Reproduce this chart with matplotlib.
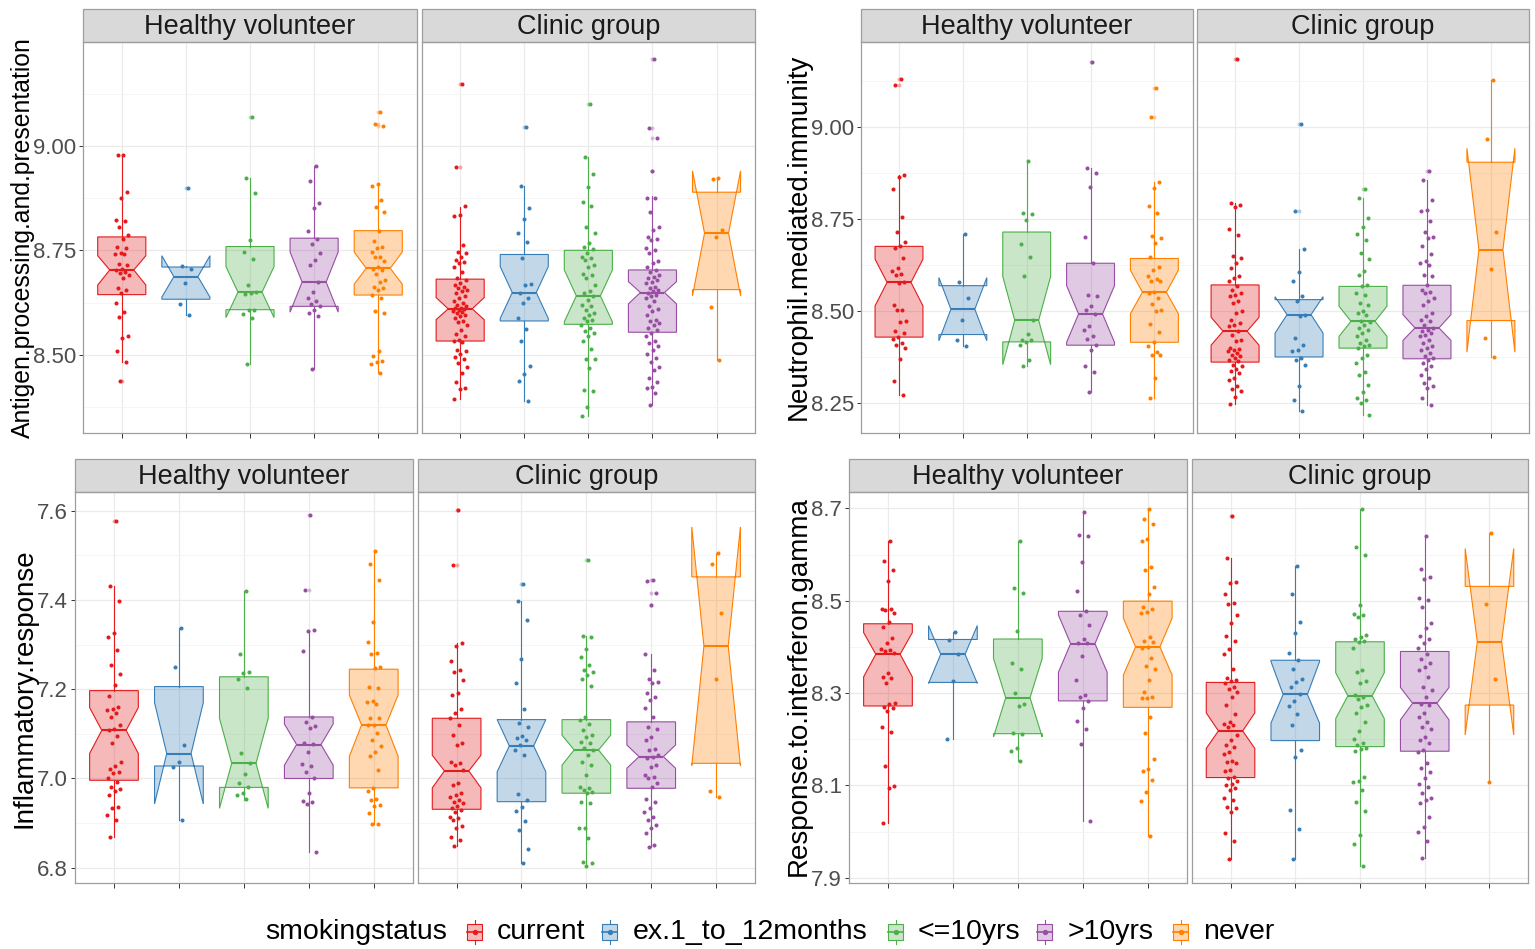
import matplotlib
matplotlib.use('Agg')
import matplotlib.pyplot as plt
from matplotlib.colors import to_rgba
from matplotlib.patches import Rectangle
from matplotlib.lines import Line2D

plt.rcParams['font.family'] = ['Liberation Sans', 'DejaVu Sans']

W, H = 1535, 949

groups = ['current', 'ex.1_to_12months', '<=10yrs', '>10yrs', 'never']
colors = ['#E41A1C', '#377EB8', '#4DAF4A', '#984EA3', '#FF7F00']
facets = ['Healthy volunteer', 'Clinic group']

# box stats per group: (whislo, q1, med, q3, whishi, notch_lo, notch_hi)
# ---------------- Antigen.processing.and.presentation
antigen_hv_box = [(8.482, 8.644, 8.703, 8.782, 8.978, 8.667, 8.737),
                  (8.595, 8.633, 8.687, 8.710, 8.713, 8.638, 8.737),
                  (8.477, 8.608, 8.650, 8.759, 8.923, 8.589, 8.711),
                  (8.467, 8.616, 8.674, 8.779, 8.952, 8.602, 8.746),
                  (8.456, 8.643, 8.707, 8.797, 8.907, 8.669, 8.746)]
antigen_hv_out = [[8.438], [8.900], [9.069], [], [9.082, 9.052, 9.048]]
antigen_hv_pts = [
    [8.978, 8.977, 8.890, 8.875, 8.823, 8.821, 8.805, 8.786, 8.778, 8.757, 8.755, 8.743, 8.742, 8.740,
     8.717, 8.714, 8.705, 8.702, 8.699, 8.695, 8.691, 8.683, 8.659, 8.656, 8.649, 8.625, 8.602, 8.591,
     8.545, 8.541, 8.510, 8.482, 8.438],
    [8.900, 8.713, 8.705, 8.671, 8.621, 8.595],
    [9.069, 8.923, 8.887, 8.774, 8.746, 8.730, 8.667, 8.650, 8.648, 8.646, 8.608, 8.608, 8.597, 8.588, 8.477],
    [8.952, 8.915, 8.862, 8.852, 8.797, 8.778, 8.766, 8.743, 8.726, 8.714, 8.675, 8.651, 8.637, 8.628,
     8.622, 8.617, 8.608, 8.599, 8.593, 8.467],
    [9.082, 9.052, 9.048, 8.909, 8.904, 8.871, 8.853, 8.841, 8.797, 8.773, 8.758, 8.755, 8.746, 8.735,
     8.734, 8.724, 8.710, 8.705, 8.702, 8.694, 8.678, 8.675, 8.663, 8.660, 8.655, 8.644, 8.636, 8.606,
     8.600, 8.510, 8.498, 8.486, 8.482, 8.478, 8.456]]
antigen_cg_box = [(8.394, 8.533, 8.610, 8.681, 8.853, 8.584, 8.637),
                  (8.390, 8.581, 8.649, 8.740, 8.903, 8.587, 8.711),
                  (8.354, 8.573, 8.641, 8.750, 8.973, 8.579, 8.703),
                  (8.380, 8.554, 8.649, 8.703, 8.879, 8.622, 8.675),
                  (8.487, 8.656, 8.791, 8.889, 8.920, 8.641, 8.940)]
antigen_cg_out = [[9.148, 8.949], [9.045], [9.100], [9.207, 9.042, 9.018, 8.939], []]
antigen_cg_pts = [
    [9.148, 8.949, 8.855, 8.835, 8.831, 8.762, 8.746, 8.743, 8.735, 8.727, 8.723, 8.719, 8.711, 8.699,
     8.683, 8.679, 8.671, 8.667, 8.662, 8.659, 8.656, 8.652, 8.648, 8.640, 8.636, 8.628, 8.624, 8.620,
     8.616, 8.613, 8.611, 8.609, 8.608, 8.605, 8.603, 8.600, 8.596, 8.592, 8.588, 8.582, 8.578, 8.572,
     8.560, 8.549, 8.544, 8.536, 8.533, 8.531, 8.512, 8.508, 8.502, 8.494, 8.490, 8.480, 8.472, 8.456,
     8.436, 8.420, 8.418, 8.394],
    [9.045, 8.903, 8.852, 8.826, 8.791, 8.769, 8.731, 8.669, 8.667, 8.648, 8.636, 8.624, 8.589, 8.561,
     8.534, 8.474, 8.455, 8.438, 8.390],
    [9.100, 8.973, 8.932, 8.901, 8.866, 8.857, 8.805, 8.791, 8.767, 8.759, 8.753, 8.743, 8.735, 8.731,
     8.726, 8.715, 8.711, 8.694, 8.691, 8.683, 8.667, 8.653, 8.648, 8.641, 8.632, 8.620, 8.616, 8.608,
     8.600, 8.596, 8.588, 8.584, 8.580, 8.572, 8.564, 8.556, 8.552, 8.544, 8.532, 8.514, 8.490, 8.490,
     8.469, 8.416, 8.414, 8.375, 8.354],
    [9.207, 9.042, 9.018, 8.939, 8.876, 8.876, 8.841, 8.805, 8.799, 8.782, 8.778, 8.774, 8.755, 8.751,
     8.743, 8.725, 8.719, 8.709, 8.703, 8.699, 8.691, 8.687, 8.683, 8.679, 8.675, 8.671, 8.663, 8.659,
     8.656, 8.652, 8.648, 8.644, 8.640, 8.636, 8.628, 8.617, 8.609, 8.604, 8.596, 8.584, 8.580, 8.576,
     8.572, 8.564, 8.560, 8.552, 8.544, 8.532, 8.528, 8.520, 8.512, 8.502, 8.492, 8.484, 8.472, 8.464,
     8.444, 8.436, 8.424, 8.420, 8.408, 8.380],
    [8.923, 8.920, 8.799, 8.782, 8.615, 8.487]]

# ---------------- Neutrophil.mediated.immunity
neutro_hv_box = [(8.272, 8.429, 8.578, 8.676, 8.869, 8.514, 8.641),
                 (8.404, 8.436, 8.505, 8.569, 8.709, 8.419, 8.591),
                 (8.351, 8.416, 8.475, 8.715, 8.909, 8.354, 8.594),
                 (8.279, 8.407, 8.492, 8.630, 8.890, 8.415, 8.569),
                 (8.264, 8.415, 8.551, 8.643, 8.852, 8.493, 8.611)]
neutro_hv_out = [[9.131, 9.115], [], [], [9.178], [9.108, 9.029]]
neutro_hv_pts = [
    [9.131, 9.115, 8.869, 8.864, 8.832, 8.755, 8.715, 8.687, 8.678, 8.672, 8.644, 8.617, 8.610, 8.601,
     8.598, 8.578, 8.577, 8.517, 8.504, 8.502, 8.472, 8.469, 8.445, 8.440, 8.429, 8.424, 8.413, 8.408,
     8.399, 8.370, 8.309, 8.272],
    [8.709, 8.579, 8.535, 8.475, 8.422, 8.404],
    [8.909, 8.768, 8.765, 8.748, 8.682, 8.646, 8.594, 8.475, 8.437, 8.422, 8.420, 8.415, 8.408, 8.366, 8.351],
    [9.178, 8.890, 8.875, 8.837, 8.701, 8.630, 8.544, 8.542, 8.514, 8.504, 8.492, 8.458, 8.447, 8.433,
     8.424, 8.407, 8.393, 8.351, 8.335, 8.279],
    [9.108, 9.029, 8.852, 8.834, 8.787, 8.768, 8.703, 8.698, 8.685, 8.646, 8.621, 8.612, 8.594, 8.587,
     8.582, 8.581, 8.551, 8.549, 8.535, 8.520, 8.502, 8.499, 8.466, 8.442, 8.415, 8.404, 8.388, 8.381,
     8.379, 8.318, 8.264]]
neutro_cg_box = [(8.248, 8.361, 8.445, 8.571, 8.795, 8.407, 8.483),
                 (8.227, 8.375, 8.490, 8.531, 8.669, 8.440, 8.539),
                 (8.216, 8.399, 8.472, 8.567, 8.807, 8.431, 8.513),
                 (8.243, 8.370, 8.454, 8.570, 8.857, 8.420, 8.490),
                 (8.375, 8.474, 8.667, 8.905, 9.129, 8.388, 8.943)]
neutro_cg_out = [[9.185], [9.010, 8.771], [8.832], [8.881], []]
neutro_cg_pts = [
    [9.185, 8.795, 8.789, 8.784, 8.723, 8.707, 8.649, 8.644, 8.630, 8.617, 8.596, 8.590, 8.581, 8.569,
     8.558, 8.549, 8.544, 8.540, 8.526, 8.522, 8.499, 8.495, 8.476, 8.467, 8.463, 8.458, 8.445, 8.436,
     8.422, 8.418, 8.399, 8.397, 8.395, 8.390, 8.386, 8.381, 8.377, 8.372, 8.368, 8.364, 8.354, 8.350,
     8.342, 8.336, 8.332, 8.318, 8.313, 8.295, 8.288, 8.282, 8.266, 8.248],
    [9.010, 8.771, 8.669, 8.606, 8.583, 8.542, 8.526, 8.490, 8.487, 8.426, 8.407, 8.393, 8.390, 8.372,
     8.368, 8.352, 8.295, 8.259, 8.227],
    [8.832, 8.807, 8.752, 8.730, 8.710, 8.694, 8.659, 8.641, 8.608, 8.599, 8.572, 8.569, 8.549, 8.544,
     8.522, 8.517, 8.499, 8.495, 8.490, 8.472, 8.469, 8.463, 8.454, 8.449, 8.440, 8.431, 8.422, 8.413,
     8.408, 8.404, 8.399, 8.381, 8.372, 8.359, 8.333, 8.327, 8.300, 8.279, 8.264, 8.259, 8.250, 8.216],
    [8.881, 8.857, 8.801, 8.774, 8.771, 8.745, 8.716, 8.701, 8.698, 8.676, 8.656, 8.635, 8.630, 8.626,
     8.599, 8.594, 8.572, 8.558, 8.553, 8.549, 8.535, 8.526, 8.517, 8.495, 8.486, 8.476, 8.472, 8.463,
     8.454, 8.449, 8.445, 8.440, 8.436, 8.431, 8.422, 8.413, 8.404, 8.399, 8.395, 8.386, 8.377, 8.372,
     8.368, 8.359, 8.350, 8.341, 8.327, 8.318, 8.304, 8.295, 8.291, 8.264, 8.243],
    [9.129, 8.968, 8.716, 8.614, 8.427, 8.375]]

# ---------------- Inflammatory.response
inflam_hv_box = [(6.869, 6.996, 7.108, 7.197, 7.432, 7.056, 7.159),
                 (6.908, 7.028, 7.056, 7.206, 7.338, 6.943, 7.170),
                 (6.952, 6.980, 7.034, 7.228, 7.421, 6.933, 7.135),
                 (6.836, 7.000, 7.076, 7.138, 7.329, 7.030, 7.122),
                 (6.898, 6.979, 7.120, 7.245, 7.510, 7.050, 7.187)]
inflam_hv_out = [[7.577], [], [], [7.590, 7.422], []]
inflam_hv_pts = [
    [7.577, 7.432, 7.398, 7.327, 7.317, 7.287, 7.254, 7.234, 7.209, 7.185, 7.161, 7.156, 7.153, 7.146,
     7.137, 7.120, 7.112, 7.108, 7.095, 7.080, 7.038, 7.028, 7.021, 7.015, 7.012, 7.002, 6.993, 6.980,
     6.976, 6.971, 6.963, 6.937, 6.933, 6.918, 6.907, 6.869],
    [7.338, 7.249, 7.075, 7.038, 7.026, 6.908],
    [7.421, 7.280, 7.239, 7.237, 7.222, 7.202, 7.058, 7.034, 7.011, 6.990, 6.982, 6.967, 6.962, 6.953],
    [7.590, 7.422, 7.333, 7.330, 7.285, 7.138, 7.127, 7.118, 7.114, 7.079, 7.077, 7.060, 7.032, 7.028,
     7.015, 7.000, 6.967, 6.949, 6.948, 6.943, 6.836],
    [7.510, 7.481, 7.445, 7.351, 7.305, 7.282, 7.280, 7.249, 7.247, 7.206, 7.203, 7.174, 7.172, 7.168,
     7.136, 7.135, 7.120, 7.119, 7.101, 7.086, 7.073, 7.060, 7.050, 7.020, 6.979, 6.973, 6.955, 6.952,
     6.940, 6.938, 6.923, 6.899, 6.898]]
inflam_cg_box = [(6.849, 6.931, 7.017, 7.135, 7.304, 6.979, 7.052),
                 (6.810, 6.948, 7.073, 7.132, 7.398, 7.015, 7.132),
                 (6.804, 6.967, 7.064, 7.132, 7.320, 7.030, 7.097),
                 (6.847, 6.978, 7.049, 7.127, 7.279, 7.023, 7.075),
                 (6.959, 7.034, 7.297, 7.452, 7.506, 7.029, 7.564)]
inflam_cg_out = [[7.603, 7.478], [7.435], [7.489], [7.445, 7.415, 7.389], []]
inflam_cg_pts = [
    [7.603, 7.478, 7.304, 7.297, 7.264, 7.244, 7.239, 7.220, 7.192, 7.188, 7.155, 7.146, 7.135, 7.120,
     7.097, 7.079, 7.075, 7.038, 7.034, 7.030, 7.019, 6.989, 6.985, 6.967, 6.963, 6.958, 6.952, 6.948,
     6.944, 6.938, 6.934, 6.930, 6.925, 6.914, 6.911, 6.908, 6.893, 6.890, 6.869, 6.862, 6.849],
    [7.435, 7.398, 7.355, 7.269, 7.213, 7.156, 7.125, 7.115, 7.096, 7.090, 7.087, 7.075, 7.064, 7.053,
     6.966, 6.952, 6.937, 6.926, 6.904, 6.884, 6.841, 6.810],
    [7.489, 7.320, 7.318, 7.290, 7.273, 7.254, 7.243, 7.239, 7.232, 7.222, 7.207, 7.138, 7.131, 7.123,
     7.108, 7.097, 7.093, 7.082, 7.079, 7.068, 7.064, 7.052, 7.037, 7.030, 7.008, 6.982, 6.978, 6.974,
     6.970, 6.967, 6.948, 6.944, 6.890, 6.888, 6.866, 6.813, 6.810, 6.804],
    [7.445, 7.443, 7.415, 7.389, 7.279, 7.244, 7.224, 7.217, 7.213, 7.191, 7.183, 7.176, 7.157, 7.138,
     7.116, 7.110, 7.094, 7.086, 7.067, 7.064, 7.052, 7.049, 7.045, 7.030, 7.026, 7.008, 7.004, 7.000,
     6.989, 6.982, 6.955, 6.948, 6.933, 6.925, 6.914, 6.907, 6.896, 6.888, 6.877, 6.851, 6.847],
    [7.506, 7.480, 7.370, 7.224, 6.973, 6.959]]

# ---------------- Response.to.interferon.gamma
ifng_hv_box = [(8.018, 8.272, 8.384, 8.450, 8.629, 8.335, 8.431),
               (8.201, 8.323, 8.384, 8.416, 8.433, 8.321, 8.446),
               (8.153, 8.212, 8.290, 8.417, 8.630, 8.205, 8.375),
               (8.023, 8.283, 8.407, 8.477, 8.691, 8.345, 8.469),
               (7.991, 8.269, 8.400, 8.499, 8.698, 8.339, 8.462)]
ifng_hv_out = [[], [], [], [], []]
ifng_hv_pts = [
    [8.629, 8.587, 8.566, 8.543, 8.483, 8.481, 8.480, 8.473, 8.453, 8.442, 8.420, 8.408, 8.395, 8.393,
     8.391, 8.386, 8.344, 8.334, 8.332, 8.322, 8.278, 8.276, 8.270, 8.267, 8.261, 8.227, 8.216, 8.143,
     8.099, 8.095, 8.018],
    [8.433, 8.415, 8.384, 8.327, 8.201],
    [8.630, 8.528, 8.517, 8.434, 8.364, 8.352, 8.301, 8.276, 8.273, 8.214, 8.211, 8.180, 8.175, 8.153],
    [8.691, 8.642, 8.639, 8.584, 8.522, 8.478, 8.468, 8.447, 8.418, 8.409, 8.408, 8.380, 8.328, 8.296,
     8.291, 8.283, 8.268, 8.240, 8.223, 8.189, 8.023],
    [8.698, 8.677, 8.666, 8.633, 8.629, 8.574, 8.566, 8.529, 8.514, 8.486, 8.483, 8.475, 8.474, 8.422,
     8.413, 8.411, 8.400, 8.397, 8.375, 8.358, 8.353, 8.328, 8.303, 8.291, 8.290, 8.289, 8.249, 8.213,
     8.157, 8.135, 8.131, 8.112, 8.085, 8.066, 7.991]]
ifng_cg_box = [(7.940, 8.117, 8.218, 8.323, 8.593, 8.180, 8.257),
               (7.940, 8.197, 8.297, 8.371, 8.576, 8.235, 8.368),
               (7.925, 8.184, 8.294, 8.411, 8.698, 8.245, 8.344),
               (7.942, 8.174, 8.278, 8.390, 8.639, 8.242, 8.312),
               (8.108, 8.274, 8.411, 8.531, 8.647, 8.209, 8.613)]
ifng_cg_out = [[8.683], [], [], [], []]
ifng_cg_pts = [
    [8.683, 8.593, 8.541, 8.539, 8.514, 8.496, 8.492, 8.470, 8.451, 8.423, 8.413, 8.395, 8.384, 8.353,
     8.332, 8.328, 8.325, 8.321, 8.314, 8.308, 8.303, 8.292, 8.274, 8.255, 8.238, 8.234, 8.231, 8.227,
     8.209, 8.198, 8.187, 8.184, 8.173, 8.169, 8.153, 8.151, 8.148, 8.133, 8.132, 8.119, 8.115, 8.109,
     8.104, 8.101, 8.094, 8.090, 8.072, 8.068, 8.054, 8.050, 8.043, 7.996, 7.980, 7.940],
    [8.576, 8.515, 8.453, 8.431, 8.386, 8.371, 8.353, 8.331, 8.324, 8.314, 8.299, 8.283, 8.272, 8.254,
     8.231, 8.177, 8.162, 8.047, 8.005, 7.940],
    [8.698, 8.617, 8.600, 8.491, 8.471, 8.469, 8.465, 8.426, 8.422, 8.418, 8.413, 8.411, 8.398, 8.350,
     8.346, 8.325, 8.322, 8.296, 8.292, 8.288, 8.274, 8.270, 8.256, 8.238, 8.218, 8.201, 8.191, 8.187,
     8.182, 8.178, 8.174, 8.119, 8.109, 8.108, 8.091, 8.065, 8.044, 7.992, 7.973, 7.925],
    [8.640, 8.568, 8.552, 8.548, 8.505, 8.501, 8.487, 8.452, 8.440, 8.423, 8.418, 8.408, 8.397, 8.384,
     8.373, 8.364, 8.357, 8.350, 8.335, 8.314, 8.306, 8.292, 8.276, 8.274, 8.256, 8.249, 8.238, 8.227,
     8.223, 8.205, 8.198, 8.191, 8.177, 8.173, 8.148, 8.137, 8.130, 8.115, 8.104, 8.097, 8.083, 8.072,
     8.068, 8.061, 8.032, 8.010, 8.000, 7.980, 7.942],
    [8.647, 8.493, 8.330, 8.108]]


BORDER = '#9E9E9E'
STRIP_H = 32.4  # px


def px_axes(fig, left, top, right, bottom):
    return fig.add_axes([left / W, 1 - bottom / H, (right - left) / W, (bottom - top) / H])


def jitter(n):
    # fixed spread for the jittered points (no randomness)
    return [((k * 0.6180339887) % 1.0 - 0.5) * 0.22 for k in range(1, n + 1)]


def draw_facet(ax, title, box, out, pts, ylim, yticks, ytick_fmt, yminor, show_labels):
    stats = []
    for b, o in zip(box, out):
        stats.append(dict(whislo=b[0], q1=b[1], med=b[2], q3=b[3], whishi=b[4],
                          cilo=b[5], cihi=b[6], fliers=o))
    pos = list(range(1, 6))
    art = ax.bxp(stats, positions=pos, widths=0.75, shownotches=True, showcaps=False,
                 patch_artist=True, showfliers=True, manage_ticks=False)
    for i, c in enumerate(colors):
        art['boxes'][i].set(facecolor=to_rgba(c, 0.3), edgecolor=c, linewidth=0.8, zorder=2)
        art['medians'][i].set(color=c, linewidth=1.5, zorder=3)
        art['whiskers'][2 * i].set(color=c, linewidth=0.8)
        art['whiskers'][2 * i + 1].set(color=c, linewidth=0.8)
        art['fliers'][i].set(marker='o', markersize=2.9, markerfacecolor=c,
                             markeredgecolor='none', alpha=0.35)
        vals = pts[i]
        xs = [pos[i] + d for d in jitter(len(vals))]
        ax.scatter(xs, vals, s=8.5, color=c, linewidths=0, zorder=4)

    ax.set_xlim(0.4, 5.6)
    ax.set_ylim(*ylim)
    ax.set_xticks(pos)
    ax.set_xticklabels([])
    ax.set_yticks(yticks)
    ax.set_yticks(yminor, minor=True)
    if show_labels:
        ax.set_yticklabels([ytick_fmt % v for v in yticks])
    else:
        ax.set_yticklabels([])
    ax.tick_params(axis='both', which='major', length=3.5, width=0.7, color='#333333',
                   labelsize=16, labelcolor='#4D4D4D', pad=2)
    ax.tick_params(axis='y', which='minor', length=0)
    ax.tick_params(axis='y', which='major', length=3 if show_labels else 0)
    ax.grid(which='major', color='#EBEBEB', linewidth=0.9)
    ax.grid(which='minor', axis='y', color='#F4F4F4', linewidth=0.6)
    ax.set_axisbelow(True)
    for s in ax.spines.values():
        s.set_color(BORDER)
        s.set_linewidth(0.9)

    hpx = ax.get_position().height * H
    frac = STRIP_H / hpx
    ax.add_patch(Rectangle((0, 1), 1, frac, transform=ax.transAxes, clip_on=False,
                           facecolor='#D9D9D9', edgecolor=BORDER, linewidth=0.9))
    ax.text(0.5, 1 + (STRIP_H / 2 - 2) / hpx, title, transform=ax.transAxes, ha='center',
            va='center', fontsize=19.5, color='#1A1A1A')


fig = plt.figure(figsize=(W / 100, H / 100), dpi=100)

panels = [
    # (healthy rect, clinic rect, data, ylim, ticks, fmt, minor, ylabel, label x, label y, label size)
    ((83.3, 41.7, 416.7, 433.0), (421.7, 41.7, 755.0, 433.0),
     (antigen_hv_box, antigen_hv_out, antigen_hv_pts, antigen_cg_box, antigen_cg_out, antigen_cg_pts),
     (8.313, 9.249), [8.50, 8.75, 9.00], '%.2f', [8.375, 8.625, 8.875, 9.125],
     'Antigen.processing.and.presentation', 23, 238, 17.8),
    ((860.7, 41.7, 1192.7, 433.0), (1196.7, 41.7, 1529.3, 433.0),
     (neutro_hv_box, neutro_hv_out, neutro_hv_pts, neutro_cg_box, neutro_cg_out, neutro_cg_pts),
     (8.168, 9.233), [8.25, 8.50, 8.75, 9.00], '%.2f', [8.375, 8.625, 8.875, 9.125],
     'Neutrophil.mediated.immunity', 799, 237, 20),
    ((75.0, 491.7, 412.7, 883.3), (417.7, 491.7, 755.0, 883.3),
     (inflam_hv_box, inflam_hv_out, inflam_hv_pts, inflam_cg_box, inflam_cg_out, inflam_cg_pts),
     (6.765, 7.643), [6.8, 7.0, 7.2, 7.4, 7.6], '%.1f', [6.9, 7.1, 7.3, 7.5],
     'Inflammatory.response', 25, 688, 20),
    ((849.0, 491.7, 1186.7, 883.3), (1191.7, 491.7, 1528.3, 883.3),
     (ifng_hv_box, ifng_hv_out, ifng_hv_pts, ifng_cg_box, ifng_cg_out, ifng_cg_pts),
     (7.888, 8.736), [7.9, 8.1, 8.3, 8.5, 8.7], '%.1f', [8.0, 8.2, 8.4, 8.6],
     'Response.to.interferon.gamma', 799, 686, 20),
]

for hv_rect, cg_rect, d, ylim, ticks, fmt, minor, ylabel, lx, ly, lsize in panels:
    ax1 = px_axes(fig, *hv_rect)
    draw_facet(ax1, facets[0], d[0], d[1], d[2], ylim, ticks, fmt, minor, True)
    ax2 = px_axes(fig, *cg_rect)
    draw_facet(ax2, facets[1], d[3], d[4], d[5], ylim, ticks, fmt, minor, False)
    fig.text(lx / W, 1 - ly / H, ylabel, rotation=90, ha='center', va='center',
             fontsize=lsize, color='black')

# legend along the bottom
leg = fig.add_axes([0, 0, 1, 1], zorder=-1)
leg.set_xlim(0, W)
leg.set_ylim(H, 0)
leg.axis('off')
ly = 932
leg.text(265, ly, 'smokingstatus', ha='left', va='center', fontsize=20.5, color='black')
key_x = [467, 602, 888, 1037, 1173]
text_x = [497, 633, 918, 1068, 1203]
for g, c, kx, tx in zip(groups, colors, key_x, text_x):
    leg.add_patch(Rectangle((kx, ly - 8), 15, 16, facecolor=to_rgba(c, 0.3), edgecolor=c, linewidth=0.8))
    leg.add_line(Line2D([kx + 7.5, kx + 7.5], [ly - 12, ly - 8], color=c, linewidth=0.8))
    leg.add_line(Line2D([kx + 7.5, kx + 7.5], [ly + 8, ly + 12], color=c, linewidth=0.8))
    leg.add_line(Line2D([kx, kx + 15], [ly, ly], color=c, linewidth=1.2))
    leg.plot([kx + 7.5], [ly], marker='o', markersize=2.8, color=c)
    leg.text(tx, ly, g, ha='left', va='center', fontsize=20.5, color='black')

fig.savefig('out.png', dpi=100, facecolor='white')
